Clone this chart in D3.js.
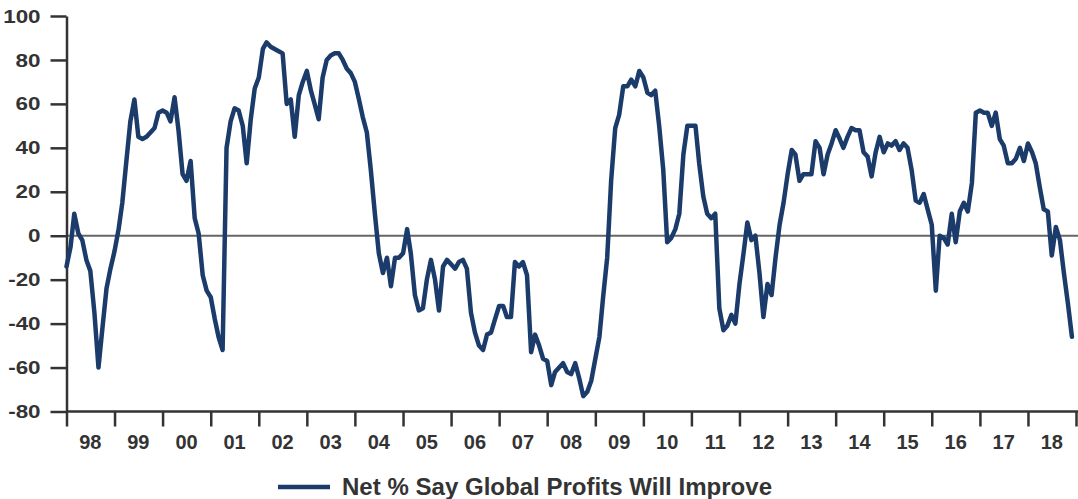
<!DOCTYPE html>
<html>
<head>
<meta charset="utf-8">
<script src="https://cdn.jsdelivr.net/npm/d3@7"></script>
<style>
  html, body { margin: 0; padding: 0; background: #fff; }
  svg { display: block; }
  text { font-family: "Liberation Sans", Arial, sans-serif; font-weight: bold; fill: #333; }
</style>
</head>
<body>
<div class="chart"></div>
<script>
/* data: monthly, Jan 1998 .. Dec 2018 */
const firstMonth = "1998-01";
const netProfits = [
  -14, -5, 10, 1, -2, -11, -16, -35, -60, -42, -24, -15,      // 98
  -7, 3, 15, 34, 52, 62, 45, 44, 45, 47, 49, 56,              // 99
  57, 56, 52, 63, 48, 28, 25, 34, 8, 1, -18, -25,             // 00
  -28, -38, -46, -52, 40, 52, 58, 57, 50, 33, 53, 67,         // 01
  72, 85, 88, 86, 85, 84, 83, 60, 62, 45, 64, 70,             // 02
  75, 66, 60, 53, 72, 80, 82, 83, 83, 80, 76, 74,             // 03
  70, 62, 54, 47, 30, 10, -8, -17, -10, -23, -10, -10,        // 04
  -8, 3, -8, -27, -34, -33, -20, -11, -20, -34, -14, -11,     // 05
  -13, -15, -12, -11, -15, -35, -44, -50, -52, -45, -44, -38, // 06
  -32, -32, -37, -37, -12, -14, -12, -18, -53, -45, -50, -56, // 07
  -57, -68, -62, -60, -58, -62, -63, -58, -65, -73, -71, -66, // 08
  -56, -46, -28, -10, 25, 49, 55, 68, 68, 71, 68, 75,         // 09
  72, 65, 64, 66, 50, 30, -3, -1, 3, 10, 37, 50,              // 10
  50, 50, 33, 18, 10, 8, 10, -33, -43, -41, -36, -40,         // 11
  -22, -8, 6, -2, 0, -17, -37, -22, -27, -10, 5, 15,          // 12
  28, 39, 37, 25, 28, 28, 28, 43, 40, 28, 37, 42,             // 13
  48, 44, 40, 45, 49, 48, 48, 38, 36, 27, 38, 45,             // 14
  38, 42, 41, 43, 39, 42, 40, 30, 16, 15, 19, 12,             // 15
  5, -25, 0, -1, -4, 10, -3, 11, 15, 11, 24, 56,              // 16
  57, 56, 56, 50, 56, 44, 41, 33, 33, 35, 40, 34,             // 17
  42, 38, 33, 22, 12, 11, -9, 4, -2, -17, -31, -46            // 18
];
const yearLabels = ["98","99","00","01","02","03","04","05","06","07","08",
                    "09","10","11","12","13","14","15","16","17","18"];
const yTicks = [100, 80, 60, 40, 20, 0, -20, -40, -60, -80];
const legendLabel = "Net % Say Global Profits Will Improve";

const svg_width = 1078;
const svg_height = 499;
const lineColor = "#1b3b6b";

const parseMonth = d3.timeParse("%Y-%m");
const start = parseMonth(firstMonth);
const series = netProfits.map((v, i) => ({ date: d3.timeMonth.offset(start, i), value: v }));

const svg = d3.select(".chart").append("svg")
  .attr("width", svg_width)
  .attr("height", svg_height);

/* scales */
const xScale = d3.scaleTime()
  .domain([start, d3.timeYear.offset(start, yearLabels.length)])
  .range([66.5, 1076]);
const yScale = d3.scaleLinear().domain([-80, 100]).range([411.5, 16]);

/* zero line */
svg.append("line")
  .attr("x1", xScale.range()[0]).attr("x2", svg_width)
  .attr("y1", yScale(0)).attr("y2", yScale(0))
  .attr("stroke", "#666").attr("stroke-width", 2);

/* y axis - plain hyphen for negatives like the source */
const yAxis = d3.axisLeft(yScale).tickValues(yTicks)
  .tickFormat(d => String(d))
  .tickSize(16).tickPadding(6).tickSizeOuter(0);
const yAxisDraw = svg.append("g")
  .attr("transform", `translate(${xScale.range()[0]},0)`)
  .call(yAxis);
yAxisDraw.select(".domain").attr("stroke", "#333").attr("stroke-width", 2.5);
yAxisDraw.selectAll(".tick line").attr("stroke", "#333").attr("stroke-width", 2.5);
yAxisDraw.selectAll(".tick text")
  .attr("font-size", 19).attr("font-family", "Liberation Sans, Arial, sans-serif")
  .attr("font-weight", "bold").attr("fill", "#333")
  .attr("transform", "scale(1.18,1)");

/* x axis */
const xAxis = d3.axisBottom(xScale)
  .ticks(d3.timeYear.every(1))
  .tickFormat("").tickSize(15).tickSizeOuter(0);
const xAxisDraw = svg.append("g")
  .attr("transform", `translate(0,${yScale(-80)})`)
  .call(xAxis);
xAxisDraw.select(".domain").attr("stroke", "#333").attr("stroke-width", 2.5)
  .attr("d", `M${xScale.range()[0]},0H${svg_width}`);
xAxisDraw.selectAll(".tick line").attr("stroke", "#333").attr("stroke-width", 2.5);

svg.append("g").selectAll("text")
  .data(yearLabels)
  .join("text")
  .attr("x", (d, i) => xScale(d3.timeMonth.offset(start, i * 12 + 6)))
  .attr("y", yScale(-80) + 37)
  .attr("text-anchor", "middle")
  .attr("font-size", 20)
  .text(d => d);

/* line */
const lineGen = d3.line()
  .x(d => xScale(d.date))
  .y(d => yScale(d.value));

svg.append("path")
  .datum(series)
  .attr("d", lineGen)
  .attr("fill", "none")
  .attr("stroke", lineColor)
  .attr("stroke-width", 4.5)
  .attr("stroke-linejoin", "round")
  .attr("stroke-linecap", "round");

/* legend */
const legend = svg.append("g").attr("transform", "translate(278,487)");
legend.append("line")
  .attr("x1", 0).attr("x2", 52)
  .attr("stroke", lineColor).attr("stroke-width", 4.5);
legend.append("text")
  .attr("x", 64).attr("y", 8)
  .attr("font-size", 23)
  .attr("textLength", 430)
  .attr("lengthAdjust", "spacingAndGlyphs")
  .text(legendLabel);
</script>
</body>
</html>
